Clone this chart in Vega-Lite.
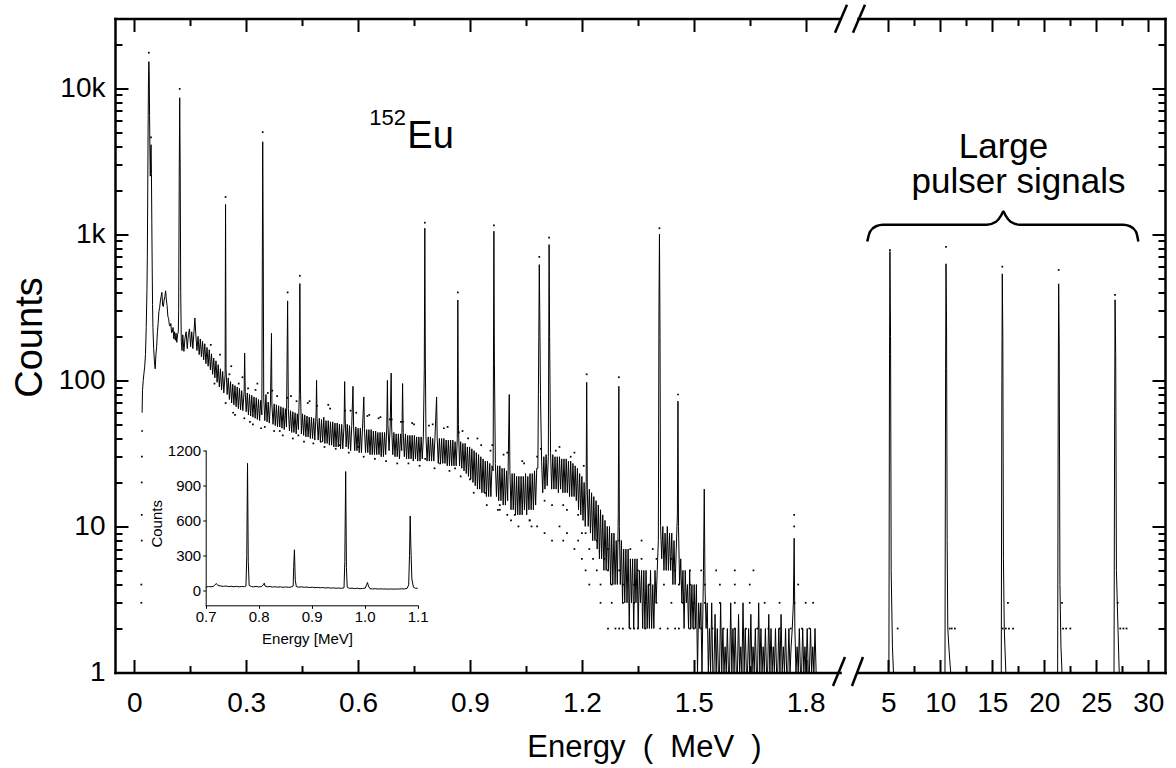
{
"$schema":"https://vega.github.io/schema/vega-lite/v6.json",
"width":1050,"height":654,
"autosize":{"type":"none"},
"padding":{"left":115,"top":18.5,"right":11,"bottom":95.5},
"background":"white",
"config":{"view":{"stroke":null},"axis":{"grid":false,"labelFont":"Liberation Sans","titleFont":"Liberation Sans","labelColor":"#000","titleColor":"#000","domainColor":"#000","tickColor":"#000","labelFontSize":28,"domainWidth":2.5,"tickWidth":2,"titleFontWeight":"normal","domainCap":"square"},"text":{"font":"Liberation Sans","color":"#000"}},
"datasets":{
"spec":[
{"e":0.021,"c":60},{"e":0.022,"c":85},{"e":0.024,"c":100},{"e":0.026,"c":112},{"e":0.028,"c":125},{"e":0.030,"c":150},{"e":0.032,"c":230},{"e":0.034,"c":420},{"e":0.035,"c":700},{"e":0.036,"c":1800},{"e":0.037,"c":5000},{"e":0.038,"c":11000},{"e":0.039,"c":15200},{"e":0.040,"c":13000},{"e":0.041,"c":6500},{"e":0.042,"c":3600},{"e":0.043,"c":2500},{"e":0.044,"c":3600},{"e":0.045,"c":4100},{"e":0.046,"c":2600},{"e":0.047,"c":1200},{"e":0.048,"c":600},{"e":0.049,"c":330},{"e":0.050,"c":230},{"e":0.052,"c":165},{"e":0.054,"c":135},{"e":0.056,"c":120},{"e":0.058,"c":150},{"e":0.060,"c":170},{"e":0.062,"c":215},{"e":0.064,"c":245},{"e":0.066,"c":295},{"e":0.068,"c":315},{"e":0.070,"c":350},{"e":0.072,"c":375},{"e":0.074,"c":400},{"e":0.076,"c":325},{"e":0.078,"c":320},{"e":0.080,"c":355},{"e":0.082,"c":375},{"e":0.084,"c":410},{"e":0.086,"c":355},{"e":0.088,"c":325},{"e":0.090,"c":275},{"e":0.092,"c":265},{"e":0.094,"c":240},{"e":0.096,"c":235},{"e":0.098,"c":245},{"e":0.100,"c":212},{"e":0.102,"c":215},{"e":0.104,"c":230},{"e":0.106,"c":192},{"e":0.108,"c":215},{"e":0.110,"c":188},{"e":0.112,"c":210},{"e":0.114,"c":182},{"e":0.116,"c":205},{"e":0.118,"c":215},{"e":0.119,"c":300},{"e":0.1205,"c":2500},{"e":0.1218,"c":8600},{"e":0.123,"c":3000},{"e":0.1245,"c":400},
{"e":0.126,"c":185},{"e":0.128,"c":160},{"e":0.130,"c":205},{"e":0.133,"c":158},{"e":0.136,"c":195},{"e":0.139,"c":215},{"e":0.142,"c":165},{"e":0.145,"c":205},{"e":0.148,"c":225},{"e":0.151,"c":170},{"e":0.154,"c":215},{"e":0.157,"c":165},{"e":0.160,"c":215},{"e":0.1625,"c":267},{"e":0.165,"c":205},{"e":0.168,"c":160},{"e":0.171,"c":200},{"e":0.174,"c":150},{"e":0.177,"c":192},{"e":0.180,"c":145},{"e":0.183,"c":185},{"e":0.186,"c":138},{"e":0.189,"c":178},{"e":0.192,"c":130},{"e":0.195,"c":168},{"e":0.198,"c":125},{"e":0.201,"c":162},{"e":0.204,"c":118},{"e":0.207,"c":152},{"e":0.210,"c":110},{"e":0.213,"c":142},{"e":0.216,"c":104},{"e":0.219,"c":136},{"e":0.222,"c":97},{"e":0.225,"c":128},{"e":0.228,"c":90},{"e":0.231,"c":120},{"e":0.234,"c":86},{"e":0.237,"c":115},{"e":0.240,"c":82},{"e":0.2435,"c":110},{"e":0.2447,"c":1600},{"e":0.246,"c":120},{"e":0.249,"c":80},{"e":0.252,"c":104},{"e":0.255,"c":74},{"e":0.258,"c":98},{"e":0.261,"c":70},{"e":0.264,"c":94},{"e":0.267,"c":68},{"e":0.270,"c":92},{"e":0.273,"c":66},{"e":0.276,"c":90},{"e":0.279,"c":64},{"e":0.282,"c":88},{"e":0.285,"c":63},{"e":0.288,"c":85},{"e":0.291,"c":62},{"e":0.2945,"c":84},{"e":0.2959,"c":154},{"e":0.2975,"c":82},{"e":0.300,"c":61},{"e":0.303,"c":82},{"e":0.306,"c":58},{"e":0.309,"c":80},{"e":0.312,"c":57},{"e":0.315,"c":79},{"e":0.318,"c":56},{"e":0.321,"c":77},{"e":0.324,"c":55},{"e":0.327,"c":76},{"e":0.330,"c":54},{"e":0.333,"c":74},{"e":0.336,"c":53},{"e":0.339,"c":73},{"e":0.342,"c":58},{"e":0.3443,"c":4300},{"e":0.3458,"c":700},{"e":0.347,"c":76},{"e":0.350,"c":53},{"e":0.353,"c":80},{"e":0.356,"c":52},{"e":0.359,"c":71},{"e":0.362,"c":51},{"e":0.365,"c":70},{"e":0.3678,"c":210},{"e":0.369,"c":68},{"e":0.372,"c":50},{"e":0.375,"c":69},{"e":0.378,"c":49},{"e":0.381,"c":68},{"e":0.384,"c":48},{"e":0.387,"c":67},{"e":0.390,"c":48},{"e":0.393,"c":66},{"e":0.396,"c":47},{"e":0.399,"c":65},{"e":0.402,"c":46},{"e":0.405,"c":64},{"e":0.408,"c":48},{"e":0.4111,"c":350},{"e":0.413,"c":64},{"e":0.416,"c":45},{"e":0.419,"c":62},{"e":0.422,"c":44},{"e":0.425,"c":61},{"e":0.428,"c":44},{"e":0.431,"c":60},{"e":0.434,"c":43},{"e":0.437,"c":59},{"e":0.440,"c":46},{"e":0.4425,"c":80},{"e":0.4439,"c":460},{"e":0.4455,"c":90},{"e":0.448,"c":43},{"e":0.451,"c":59},{"e":0.454,"c":42},{"e":0.457,"c":58},{"e":0.460,"c":41},{"e":0.463,"c":57},{"e":0.466,"c":41},{"e":0.469,"c":56},{"e":0.472,"c":40},{"e":0.475,"c":56},{"e":0.478,"c":40},{"e":0.481,"c":55},{"e":0.484,"c":39},{"e":0.4875,"c":60},{"e":0.4887,"c":100},{"e":0.490,"c":55},{"e":0.493,"c":39},{"e":0.496,"c":55},{"e":0.499,"c":38},{"e":0.502,"c":54},{"e":0.505,"c":38},{"e":0.508,"c":56},{"e":0.511,"c":37},{"e":0.514,"c":53},{"e":0.517,"c":37},{"e":0.520,"c":53},{"e":0.523,"c":36},{"e":0.526,"c":52},{"e":0.529,"c":36},{"e":0.532,"c":52},{"e":0.535,"c":35},{"e":0.538,"c":51},{"e":0.541,"c":35},{"e":0.544,"c":51},{"e":0.547,"c":35},{"e":0.550,"c":50},{"e":0.553,"c":34},{"e":0.556,"c":50},{"e":0.559,"c":34},{"e":0.5625,"c":50},{"e":0.564,"c":98},{"e":0.5655,"c":55},{"e":0.568,"c":35},{"e":0.571,"c":50},{"e":0.574,"c":34},{"e":0.577,"c":49},{"e":0.580,"c":33},{"e":0.583,"c":49},{"e":0.5863,"c":91},{"e":0.588,"c":48},{"e":0.591,"c":33},{"e":0.594,"c":48},{"e":0.597,"c":33},{"e":0.600,"c":47},{"e":0.603,"c":32},{"e":0.606,"c":47},{"e":0.609,"c":32},{"e":0.612,"c":48},{"e":0.6154,"c":77},{"e":0.617,"c":47},{"e":0.620,"c":32},{"e":0.623,"c":46},{"e":0.626,"c":32},{"e":0.629,"c":46},{"e":0.632,"c":31},{"e":0.635,"c":46},{"e":0.638,"c":31},{"e":0.641,"c":45},{"e":0.644,"c":31},{"e":0.647,"c":45},{"e":0.650,"c":31},{"e":0.653,"c":44},{"e":0.656,"c":31},{"e":0.659,"c":44},{"e":0.662,"c":30},{"e":0.665,"c":44},{"e":0.668,"c":30},{"e":0.671,"c":44},{"e":0.674,"c":31},{"e":0.677,"c":48},{"e":0.6786,"c":100},{"e":0.680,"c":50},{"e":0.683,"c":33},{"e":0.686,"c":48},{"e":0.6887,"c":112},{"e":0.690,"c":48},{"e":0.693,"c":31},{"e":0.696,"c":44},{"e":0.699,"c":30},{"e":0.702,"c":43},{"e":0.705,"c":30},{"e":0.708,"c":43},{"e":0.711,"c":29},{"e":0.714,"c":43},{"e":0.717,"c":33},{"e":0.7193,"c":95},{"e":0.721,"c":44},{"e":0.724,"c":30},{"e":0.727,"c":43},{"e":0.730,"c":29},{"e":0.733,"c":42},{"e":0.736,"c":29},{"e":0.739,"c":42},{"e":0.742,"c":29},{"e":0.745,"c":42},{"e":0.748,"c":28},{"e":0.751,"c":42},{"e":0.754,"c":29},{"e":0.757,"c":41},{"e":0.760,"c":28},{"e":0.763,"c":41},{"e":0.766,"c":28},{"e":0.769,"c":41},{"e":0.772,"c":29},{"e":0.775,"c":41},{"e":0.7775,"c":120},{"e":0.7789,"c":1100},{"e":0.7803,"c":140},{"e":0.782,"c":41},{"e":0.785,"c":28},{"e":0.788,"c":41},{"e":0.791,"c":28},{"e":0.794,"c":41},{"e":0.797,"c":28},{"e":0.800,"c":40},{"e":0.803,"c":28},{"e":0.806,"c":40},{"e":0.8105,"c":77},{"e":0.812,"c":41},{"e":0.815,"c":27},{"e":0.818,"c":40},{"e":0.821,"c":27},{"e":0.824,"c":40},{"e":0.827,"c":27},{"e":0.830,"c":40},{"e":0.833,"c":27},{"e":0.836,"c":39},{"e":0.839,"c":26},{"e":0.842,"c":39},{"e":0.845,"c":26},{"e":0.848,"c":39},{"e":0.851,"c":26},{"e":0.854,"c":39},{"e":0.857,"c":26},{"e":0.860,"c":38},{"e":0.863,"c":26},{"e":0.866,"c":40},{"e":0.8674,"c":355},{"e":0.869,"c":50},{"e":0.872,"c":26},{"e":0.875,"c":38},{"e":0.878,"c":25},{"e":0.881,"c":37},{"e":0.884,"c":24},{"e":0.887,"c":37},{"e":0.890,"c":23},{"e":0.893,"c":35},{"e":0.896,"c":22},{"e":0.899,"c":35},{"e":0.902,"c":21},{"e":0.905,"c":34},{"e":0.908,"c":20},{"e":0.911,"c":33},{"e":0.914,"c":19},{"e":0.917,"c":32},{"e":0.920,"c":18},{"e":0.923,"c":31},{"e":0.926,"c":18},{"e":0.929,"c":30},{"e":0.932,"c":17},{"e":0.935,"c":29},{"e":0.938,"c":17},{"e":0.941,"c":28},{"e":0.944,"c":16},{"e":0.947,"c":28},{"e":0.950,"c":16},{"e":0.953,"c":27},{"e":0.956,"c":16},{"e":0.959,"c":26},{"e":0.962,"c":24},{"e":0.9641,"c":1050},{"e":0.9655,"c":130},{"e":0.968,"c":27},{"e":0.971,"c":16},{"e":0.974,"c":26},{"e":0.977,"c":15},{"e":0.980,"c":26},{"e":0.983,"c":15},{"e":0.986,"c":25},{"e":0.989,"c":14},{"e":0.992,"c":25},{"e":0.995,"c":14},{"e":0.998,"c":24},{"e":1.001,"c":15},{"e":1.0053,"c":80},{"e":1.007,"c":24},{"e":1.010,"c":13},{"e":1.013,"c":23},{"e":1.016,"c":13},{"e":1.019,"c":23},{"e":1.022,"c":12},{"e":1.025,"c":22},{"e":1.028,"c":12},{"e":1.031,"c":22},{"e":1.034,"c":12},{"e":1.037,"c":22},{"e":1.040,"c":12},{"e":1.043,"c":22},{"e":1.046,"c":13},{"e":1.049,"c":23},{"e":1.052,"c":12},{"e":1.055,"c":22},{"e":1.058,"c":13},{"e":1.061,"c":23},{"e":1.064,"c":13},{"e":1.067,"c":23},{"e":1.070,"c":13},{"e":1.073,"c":24},{"e":1.076,"c":14},{"e":1.079,"c":25},{"e":1.082,"c":25},{"e":1.0845,"c":200},{"e":1.0858,"c":620},{"e":1.087,"c":300},{"e":1.089,"c":80},{"e":1.092,"c":28},{"e":1.095,"c":17},{"e":1.098,"c":30},{"e":1.101,"c":18},{"e":1.104,"c":31},{"e":1.107,"c":19},{"e":1.110,"c":30},{"e":1.1121,"c":850},{"e":1.1135,"c":200},{"e":1.116,"c":32},{"e":1.119,"c":18},{"e":1.122,"c":31},{"e":1.125,"c":18},{"e":1.128,"c":30},{"e":1.131,"c":18},{"e":1.134,"c":30},{"e":1.137,"c":17},{"e":1.140,"c":30},{"e":1.143,"c":18},{"e":1.146,"c":29},{"e":1.149,"c":17},{"e":1.152,"c":29},{"e":1.155,"c":17},{"e":1.158,"c":29},{"e":1.161,"c":17},{"e":1.164,"c":28},{"e":1.167,"c":16},{"e":1.170,"c":28},{"e":1.173,"c":16},{"e":1.176,"c":27},{"e":1.179,"c":16},{"e":1.182,"c":26},{"e":1.185,"c":15},{"e":1.188,"c":25},{"e":1.191,"c":13},{"e":1.194,"c":23},{"e":1.197,"c":12},{"e":1.200,"c":22},{"e":1.203,"c":11},{"e":1.206,"c":20},{"e":1.209,"c":10},{"e":1.2115,"c":20},{"e":1.2129,"c":97},{"e":1.2145,"c":18},{"e":1.217,"c":10},{"e":1.220,"c":18},{"e":1.223,"c":9},{"e":1.226,"c":17},{"e":1.229,"c":8},{"e":1.232,"c":16},{"e":1.235,"c":8},{"e":1.238,"c":15},{"e":1.241,"c":7},{"e":1.244,"c":14},{"e":1.247,"c":6},{"e":1.250,"c":13},{"e":1.253,"c":6},{"e":1.256,"c":12},{"e":1.259,"c":5},{"e":1.262,"c":11},{"e":1.265,"c":5},{"e":1.268,"c":10},{"e":1.271,"c":5},{"e":1.274,"c":10},{"e":1.277,"c":4},{"e":1.280,"c":9},{"e":1.283,"c":4},{"e":1.286,"c":9},{"e":1.289,"c":4},{"e":1.292,"c":8},{"e":1.295,"c":4},{"e":1.2975,"c":12},{"e":1.2991,"c":91},{"e":1.3005,"c":10},{"e":1.303,"c":4},{"e":1.306,"c":8},{"e":1.309,"c":3},{"e":1.312,"c":7},{"e":1.315,"c":3},{"e":1.318,"c":7},{"e":1.321,"c":3},{"e":1.324,"c":7},{"e":1.327,"c":2},{"e":1.330,"c":6},{"e":1.333,"c":3},{"e":1.336,"c":6},{"e":1.339,"c":2},{"e":1.342,"c":6},{"e":1.345,"c":3},{"e":1.348,"c":6},{"e":1.351,"c":2},{"e":1.354,"c":5},{"e":1.357,"c":3},{"e":1.360,"c":5},{"e":1.363,"c":2},{"e":1.366,"c":5},{"e":1.369,"c":2},{"e":1.372,"c":5},{"e":1.375,"c":2},{"e":1.378,"c":4},{"e":1.381,"c":2},{"e":1.384,"c":5},{"e":1.387,"c":2},{"e":1.390,"c":4},{"e":1.393,"c":2},{"e":1.396,"c":5},{"e":1.399,"c":3},{"e":1.402,"c":5},{"e":1.405,"c":8},{"e":1.4066,"c":300},{"e":1.408,"c":1000},{"e":1.4095,"c":200},{"e":1.411,"c":10},{"e":1.414,"c":6},{"e":1.417,"c":10},{"e":1.420,"c":5},{"e":1.423,"c":9},{"e":1.426,"c":5},{"e":1.429,"c":10},{"e":1.432,"c":5},{"e":1.435,"c":9},{"e":1.438,"c":5},{"e":1.441,"c":9},{"e":1.444,"c":4},{"e":1.447,"c":8},{"e":1.450,"c":4},{"e":1.453,"c":7},{"e":1.456,"c":12},{"e":1.4576,"c":72},{"e":1.459,"c":10},{"e":1.462,"c":4},{"e":1.465,"c":6},{"e":1.468,"c":3},{"e":1.471,"c":5},{"e":1.474,"c":2},{"e":1.477,"c":5},{"e":1.480,"c":3},{"e":1.483,"c":4},{"e":1.486,"c":2},{"e":1.489,"c":5},{"e":1.492,"c":2},{"e":1.495,"c":4},{"e":1.498,"c":2},{"e":1.501,"c":4},{"e":1.504,"c":2},{"e":1.507,"c":4},{"e":1.510,"c":1},{"e":1.513,"c":3},{"e":1.516,"c":2},{"e":1.519,"c":3},{"e":1.522,"c":1},{"e":1.526,"c":5},{"e":1.5281,"c":18},{"e":1.530,"c":4},{"e":1.533,"c":2},{"e":1.536,"c":3},
{"e":1.539,"c":1},{"e":1.542,"c":2},{"e":1.545,"c":1},{"e":1.548,"c":3},{"e":1.551,"c":1},{"e":1.554,"c":1},{"e":1.557,"c":2.5},{"e":1.560,"c":1},{"e":1.563,"c":2},{"e":1.566,"c":1},{"e":1.569,"c":1},{"e":1.572,"c":3},{"e":1.575,"c":1},{"e":1.578,"c":2},{"e":1.581,"c":1},{"e":1.584,"c":1.5},{"e":1.587,"c":1},{"e":1.590,"c":2},{"e":1.593,"c":1},{"e":1.596,"c":1},{"e":1.599,"c":3},{"e":1.602,"c":1},{"e":1.605,"c":2},{"e":1.608,"c":1},{"e":1.611,"c":2},{"e":1.614,"c":1},{"e":1.617,"c":1},{"e":1.620,"c":2.5},{"e":1.623,"c":1},{"e":1.626,"c":1.5},{"e":1.629,"c":1},{"e":1.632,"c":3},{"e":1.635,"c":1},{"e":1.638,"c":2},{"e":1.641,"c":1},{"e":1.644,"c":1},{"e":1.647,"c":2},{"e":1.650,"c":1},{"e":1.653,"c":2.5},{"e":1.656,"c":1},{"e":1.659,"c":1.5},{"e":1.662,"c":1},{"e":1.665,"c":2},{"e":1.668,"c":1},{"e":1.671,"c":1},{"e":1.674,"c":3},{"e":1.677,"c":1},{"e":1.680,"c":2},{"e":1.683,"c":1},{"e":1.686,"c":1.5},{"e":1.689,"c":1},{"e":1.692,"c":2},{"e":1.695,"c":1},{"e":1.698,"c":1},{"e":1.701,"c":2.5},{"e":1.704,"c":1},{"e":1.707,"c":2},{"e":1.710,"c":1},{"e":1.713,"c":1.5},{"e":1.716,"c":1},{"e":1.719,"c":2},{"e":1.722,"c":1},{"e":1.725,"c":1},{"e":1.728,"c":2},{"e":1.731,"c":1},{"e":1.734,"c":2.5},{"e":1.737,"c":1},{"e":1.740,"c":1.5},{"e":1.743,"c":1},{"e":1.746,"c":2},{"e":1.749,"c":1},{"e":1.752,"c":1},{"e":1.755,"c":2},{"e":1.758,"c":1},{"e":1.761,"c":1.5},{"e":1.764,"c":2},{"e":1.767,"c":3},{"e":1.7691,"c":8.3},{"e":1.771,"c":2},{"e":1.774,"c":1},{"e":1.777,"c":1.5},{"e":1.780,"c":1},{"e":1.783,"c":2},{"e":1.786,"c":1},{"e":1.789,"c":1},{"e":1.792,"c":2},{"e":1.795,"c":1},{"e":1.798,"c":1.5},{"e":1.801,"c":1},{"e":1.804,"c":2},{"e":1.807,"c":1},{"e":1.810,"c":1},{"e":1.813,"c":2},{"e":1.816,"c":1},{"e":1.819,"c":1.5},{"e":1.822,"c":1},{"e":1.825,"c":2},{"e":1.828,"c":1}
],
"dots":[
{"e":0.019,"c":3},{"e":0.02,"c":8},{"e":0.02,"c":20},{"e":0.021,"c":45},{"e":0.019,"c":4},{"e":0.02,"c":12},{"e":0.0205,"c":30},
{"e":0.039,"c":17500},{"e":0.0448,"c":4600},{"e":0.1218,"c":9900},{"e":0.2447,"c":1800},{"e":0.3443,"c":5000},{"e":0.4111,"c":400},{"e":0.4439,"c":520},{"e":0.7789,"c":1200},{"e":0.8674,"c":400},{"e":0.9641,"c":1150},{"e":1.0858,"c":700},{"e":1.1121,"c":950},{"e":1.408,"c":1100},{"e":1.4576,"c":80},{"e":1.2129,"c":110},{"e":1.2991,"c":105},{"e":1.7691,"c":12},{"e":1.7691,"c":10},
{"e":0.23,"c":150},{"e":0.26,"c":125},{"e":0.27,"c":58},{"e":0.29,"c":105},{"e":0.31,"c":52},{"e":0.33,"c":95},{"e":0.35,"c":48},{"e":0.37,"c":85},{"e":0.39,"c":45},{"e":0.42,"c":78},{"e":0.44,"c":42},{"e":0.47,"c":72},{"e":0.5,"c":38},{"e":0.52,"c":68},{"e":0.55,"c":36},{"e":0.58,"c":62},{"e":0.6,"c":35},{"e":0.63,"c":58},{"e":0.66,"c":56},{"e":0.69,"c":54},{"e":0.72,"c":52},{"e":0.75,"c":50},{"e":0.78,"c":29},{"e":0.8,"c":50},{"e":0.82,"c":27},{"e":0.84,"c":48},{"e":0.86,"c":25},{"e":0.88,"c":45},{"e":0.9,"c":21},{"e":0.92,"c":40},{"e":0.94,"c":17},{"e":0.96,"c":36},{"e":0.98,"c":14},{"e":1.0,"c":32},{"e":1.02,"c":12},{"e":1.04,"c":28},{"e":1.06,"c":11},{"e":1.08,"c":30},{"e":1.1,"c":15},{"e":1.13,"c":33},{"e":1.15,"c":14},{"e":1.17,"c":30},{"e":1.19,"c":12},
{"e":0.205,"c":175},{"e":0.215,"c":95},{"e":0.245,"c":70},{"e":0.255,"c":110},{"e":0.265,"c":60},{"e":0.28,"c":95},{"e":0.295,"c":55},{"e":0.305,"c":88},{"e":0.318,"c":50},{"e":0.325,"c":86},{"e":0.34,"c":47},{"e":0.358,"c":82},{"e":0.375,"c":45},{"e":0.383,"c":78},{"e":0.398,"c":42},{"e":0.41,"c":76},{"e":0.425,"c":40},{"e":0.435,"c":72},{"e":0.455,"c":38},{"e":0.465,"c":70},{"e":0.48,"c":37},{"e":0.49,"c":67},{"e":0.51,"c":35},{"e":0.525,"c":64},{"e":0.54,"c":34},{"e":0.565,"c":62},{"e":0.575,"c":32},{"e":0.595,"c":60},{"e":0.615,"c":30},{"e":0.625,"c":57},{"e":0.645,"c":29},{"e":0.655,"c":55},{"e":0.675,"c":28},{"e":0.685,"c":54},{"e":0.705,"c":27},{"e":0.715,"c":52},{"e":0.735,"c":27},{"e":0.745,"c":51},{"e":0.765,"c":26},{"e":0.79,"c":49},{"e":0.805,"c":25},{"e":0.83,"c":47},{"e":0.845,"c":24},{"e":0.87,"c":44},{"e":0.875,"c":22},{"e":0.895,"c":40},{"e":0.91,"c":17},{"e":0.93,"c":36},{"e":0.945,"c":14},{"e":0.955,"c":33},{"e":0.975,"c":13},{"e":0.99,"c":31},{"e":1.01,"c":11},{"e":1.045,"c":27},{"e":1.065,"c":10},{"e":1.09,"c":34},{"e":1.12,"c":14},{"e":1.14,"c":35},{"e":1.16,"c":13},{"e":1.18,"c":32},{"e":1.2,"c":9},{"e":1.205,"c":26},
{"e":1.27,"c":2},{"e":1.29,"c":2},{"e":1.31,"c":2},{"e":1.33,"c":2},{"e":1.35,"c":2},{"e":1.37,"c":2},{"e":1.41,"c":2},{"e":1.43,"c":2},{"e":1.46,"c":2},{"e":1.49,"c":2},{"e":1.52,"c":2},{"e":1.55,"c":2},{"e":1.58,"c":2},{"e":1.61,"c":2},{"e":1.64,"c":2},{"e":1.67,"c":2},{"e":1.70,"c":2},{"e":1.73,"c":2},{"e":1.76,"c":2},{"e":1.79,"c":2},{"e":1.81,"c":2},{"e":1.30,"c":2},{"e":1.34,"c":2},{"e":1.45,"c":2},{"e":1.50,"c":2},
{"e":1.25,"c":3},{"e":1.28,"c":3},{"e":1.31,"c":3},{"e":1.34,"c":3},{"e":1.37,"c":3},{"e":1.40,"c":3},{"e":1.44,"c":3},{"e":1.47,"c":3},{"e":1.50,"c":3},{"e":1.53,"c":3},{"e":1.57,"c":3},{"e":1.61,"c":3},{"e":1.65,"c":3},{"e":1.69,"c":3},{"e":1.73,"c":3},{"e":1.77,"c":3},{"e":1.80,"c":3},{"e":1.82,"c":3},
{"e":1.22,"c":4},{"e":1.25,"c":4},{"e":1.28,"c":4},{"e":1.31,"c":4},{"e":1.34,"c":4},{"e":1.38,"c":4},{"e":1.42,"c":4},{"e":1.46,"c":4},{"e":1.49,"c":4},{"e":1.53,"c":4},{"e":1.57,"c":4},{"e":1.61,"c":4},{"e":1.65,"c":4},{"e":1.78,"c":4},
{"e":1.21,"c":5},{"e":1.24,"c":5},{"e":1.27,"c":5},{"e":1.30,"c":5},{"e":1.35,"c":5},{"e":1.45,"c":5},{"e":1.49,"c":5},{"e":1.52,"c":5},{"e":1.56,"c":5},{"e":1.61,"c":5},{"e":1.66,"c":5},
{"e":1.20,"c":6},{"e":1.23,"c":6},{"e":1.26,"c":6},{"e":1.36,"c":6},{"e":1.40,"c":6},{"e":1.44,"c":6},
{"e":1.18,"c":7},{"e":1.22,"c":7},{"e":1.27,"c":7},{"e":1.33,"c":7},{"e":1.39,"c":7},
{"e":1.12,"c":8},{"e":1.15,"c":8},{"e":1.19,"c":8},{"e":1.24,"c":8},{"e":1.30,"c":8},{"e":1.36,"c":8},
{"e":1.10,"c":9},{"e":1.16,"c":9},{"e":1.21,"c":9},{"e":1.03,"c":10},{"e":1.08,"c":10},{"e":1.14,"c":10},{"e":1.00,"c":12},{"e":1.06,"c":11},{"e":0.98,"c":13}
],
"pulser":[
{"e":2.2,"c":1},{"e":5.06,"c":1},{"e":5.12,"c":150},{"e":5.16,"c":762},{"e":5.22,"c":200},{"e":5.28,"c":5},{"e":5.4,"c":1.5},{"e":5.5,"c":1},
{"e":10.45,"c":1},{"e":10.51,"c":120},{"e":10.55,"c":628},{"e":10.6,"c":250},{"e":10.66,"c":8},{"e":10.72,"c":2},{"e":10.85,"c":1.4},{"e":11.0,"c":1},
{"e":15.86,"c":1},{"e":15.92,"c":100},{"e":15.96,"c":536},{"e":16.01,"c":200},{"e":16.07,"c":6},{"e":16.15,"c":2},{"e":16.3,"c":1},
{"e":21.28,"c":1},{"e":21.34,"c":90},{"e":21.38,"c":458},{"e":21.43,"c":180},{"e":21.5,"c":4},{"e":21.6,"c":1.5},{"e":21.7,"c":1},
{"e":26.7,"c":1},{"e":26.76,"c":60},{"e":26.8,"c":356},{"e":26.86,"c":150},{"e":26.93,"c":5},{"e":27.05,"c":2.4},{"e":27.2,"c":1},{"e":31.5,"c":1}
],
"pdots":[
{"e":5.16,"c":780},{"e":10.55,"c":820},{"e":15.96,"c":600},{"e":21.38,"c":570},{"e":26.8,"c":385},
{"e":5.9,"c":2},{"e":10.9,"c":2},{"e":11.1,"c":2},{"e":11.4,"c":2},{"e":16.0,"c":2},{"e":16.3,"c":2},{"e":16.6,"c":2},{"e":17.0,"c":2},{"e":16.5,"c":3},{"e":21.8,"c":2},{"e":22.1,"c":2},{"e":22.5,"c":2},{"e":21.7,"c":3},{"e":27.3,"c":2},{"e":27.6,"c":2},{"e":27.9,"c":2},{"e":27.05,"c":3}
],
"brace":[
{"e":2.98,"c":893},{"e":3.24,"c":1040},{"e":3.82,"c":1135},{"e":4.49,"c":1162},{"e":14.46,"c":1162},{"e":15.36,"c":1218},{"e":15.84,"c":1340},{"e":16.06,"c":1432},{"e":16.28,"c":1340},{"e":16.76,"c":1218},{"e":17.66,"c":1162},{"e":27.57,"c":1162},{"e":28.24,"c":1135},{"e":28.82,"c":1040},{"e":29.04,"c":893}
],
"breakB":[{"e":1.8732,"e2":1.9054,"c":0.808,"c2":1.277},{"e":1.9241,"e2":1.9536,"c":0.808,"c2":1.277}],
"breakT":[{"e":1.8786,"e2":1.9107,"c":23990,"c2":37320},{"e":1.9268,"e2":1.959,"c":23990,"c2":37320}],
"labels":[{"t":"Large","e":16.08,"c":3342},{"t":"pulser signals","e":17.52,"c":1923}],
"inset":[
{"e":0.700,"c":30},{"e":0.705,"c":36},{"e":0.710,"c":33},{"e":0.715,"c":38},{"e":0.720,"c":62},{"e":0.723,"c":45},{"e":0.728,"c":40},{"e":0.733,"c":37},{"e":0.738,"c":40},{"e":0.743,"c":35},{"e":0.748,"c":38},{"e":0.753,"c":34},{"e":0.758,"c":37},{"e":0.763,"c":33},{"e":0.768,"c":36},{"e":0.773,"c":34},{"e":0.776,"c":40},{"e":0.7775,"c":300},{"e":0.7789,"c":1090},{"e":0.7803,"c":250},{"e":0.782,"c":45},{"e":0.786,"c":36},{"e":0.790,"c":33},{"e":0.795,"c":37},{"e":0.800,"c":32},{"e":0.805,"c":35},{"e":0.809,"c":50},{"e":0.8105,"c":65},{"e":0.812,"c":40},{"e":0.816,"c":33},{"e":0.821,"c":36},{"e":0.826,"c":31},{"e":0.831,"c":34},{"e":0.836,"c":30},{"e":0.841,"c":33},{"e":0.846,"c":29},{"e":0.851,"c":32},{"e":0.856,"c":29},{"e":0.861,"c":31},{"e":0.865,"c":40},{"e":0.866,"c":200},{"e":0.8674,"c":350},{"e":0.869,"c":90},{"e":0.871,"c":35},{"e":0.876,"c":30},{"e":0.881,"c":33},{"e":0.886,"c":29},{"e":0.891,"c":31},{"e":0.896,"c":27},{"e":0.901,"c":30},{"e":0.906,"c":26},{"e":0.911,"c":28},{"e":0.916,"c":25},{"e":0.921,"c":27},{"e":0.926,"c":23},{"e":0.931,"c":26},{"e":0.936,"c":22},{"e":0.941,"c":24},{"e":0.946,"c":21},{"e":0.951,"c":23},{"e":0.956,"c":20},{"e":0.961,"c":25},{"e":0.9625,"c":250},{"e":0.9641,"c":1020},{"e":0.9655,"c":200},{"e":0.967,"c":30},{"e":0.971,"c":20},{"e":0.976,"c":22},{"e":0.981,"c":18},{"e":0.986,"c":21},{"e":0.991,"c":17},{"e":0.996,"c":19},{"e":1.001,"c":22},{"e":1.0035,"c":50},{"e":1.0053,"c":70},{"e":1.007,"c":40},{"e":1.010,"c":17},{"e":1.015,"c":15},{"e":1.020,"c":17},{"e":1.025,"c":14},{"e":1.030,"c":16},{"e":1.035,"c":14},{"e":1.040,"c":15},{"e":1.045,"c":13},{"e":1.050,"c":15},{"e":1.055,"c":13},{"e":1.060,"c":15},{"e":1.065,"c":14},{"e":1.070,"c":16},{"e":1.075,"c":15},{"e":1.080,"c":20},{"e":1.083,"c":50},{"e":1.0845,"c":300},{"e":1.0858,"c":640},{"e":1.087,"c":400},{"e":1.089,"c":100},{"e":1.092,"c":30},{"e":1.096,"c":20},{"e":1.100,"c":22}
]
},
"resolve":{"scale":{"x":"independent","y":"independent"},"axis":{"x":"independent","y":"independent"}},
"layer":[
{"data":{"name":"spec"},"mark":{"type":"line","color":"#000","strokeWidth":1},
 "encoding":{
  "x":{"field":"e","type":"quantitative","scale":{"domain":[-0.0517,1.892],"range":[0,725],"nice":false,"zero":false},
   "axis":{"orient":"bottom","values":[0,0.3,0.6,0.9,1.2,1.5,1.8],"tickSize":-13,"labelPadding":30,"labelExpr":"toString(datum.value)","labelFlush":false,"labelOverlap":false,
    "title":"Energy\u00a0 (\u00a0 MeV\u00a0 )","titleFontSize":31,"titleX":529,"titleY":83.5,"titleBaseline":"alphabetic","titleAlign":"center","titleAnchor":null}},
  "y":{"field":"c","type":"quantitative","scale":{"type":"log","domain":[1,30000],"nice":false},
   "axis":{"orient":"left","values":[1,10,100,1000,10000],"tickSize":-13,"labelPadding":23,"labelFlush":false,"labelOverlap":false,
    "labelExpr":"datum.value >= 1000 ? format(datum.value/1000,'d') + 'k' : format(datum.value,'d')",
    "title":"Counts","titleFontSize":38,"titleX":-73.3,"titleY":318.5,"titleAngle":270,"titleBaseline":"alphabetic","titleAlign":"center"}}}},
{"data":{"name":"dots"},"mark":{"type":"point","filled":true,"color":"#000","size":3,"opacity":1,"shape":"square"},
 "encoding":{
  "x":{"field":"e","type":"quantitative","scale":{"domain":[-0.0517,1.892],"range":[0,725],"nice":false,"zero":false},
   "axis":{"orient":"top","values":[0,0.3,0.6,0.9,1.2,1.5,1.8],"tickSize":-13,"labels":false,"title":null}},
  "y":{"field":"c","type":"quantitative","scale":{"type":"log","domain":[1,30000],"nice":false},
   "axis":{"orient":"right","values":[1,10,100,1000,10000],"tickSize":-13,"labels":false,"title":null}}}},
{"data":{"name":"breakB"},"mark":{"type":"rule","color":"#000","strokeWidth":2.5},
 "encoding":{
  "x":{"field":"e","type":"quantitative","scale":{"domain":[-0.0517,1.892],"range":[0,725],"nice":false,"zero":false},
   "axis":{"orient":"bottom","values":[0.15,0.45,0.75,1.05,1.35,1.65],"tickSize":-7,"labels":false,"domain":false,"title":null}},
  "x2":{"field":"e2"},
  "y":{"field":"c","type":"quantitative","scale":{"type":"log","domain":[1,30000],"nice":false},
   "axis":{"orient":"left","values":[2,3,4,5,6,7,8,9,20,30,40,50,60,70,80,90,200,300,400,500,600,700,800,900,2000,3000,4000,5000,6000,7000,8000,9000,20000],"tickSize":-7,"labels":false,"domain":false,"title":null}},
  "y2":{"field":"c2"}}},
{"data":{"name":"breakT"},"mark":{"type":"rule","color":"#000","strokeWidth":2.5},
 "encoding":{
  "x":{"field":"e","type":"quantitative","scale":{"domain":[-0.0517,1.892],"range":[0,725],"nice":false,"zero":false},
   "axis":{"orient":"top","values":[0.15,0.45,0.75,1.05,1.35,1.65],"tickSize":-7,"labels":false,"domain":false,"title":null}},
  "x2":{"field":"e2"},
  "y":{"field":"c","type":"quantitative","scale":{"type":"log","domain":[1,30000],"nice":false},
   "axis":{"orient":"right","values":[2,3,4,5,6,7,8,9,20,30,40,50,60,70,80,90,200,300,400,500,600,700,800,900,2000,3000,4000,5000,6000,7000,8000,9000,20000],"tickSize":-7,"labels":false,"domain":false,"title":null}},
  "y2":{"field":"c2"}}},
{"data":{"name":"pulser"},"mark":{"type":"line","color":"#000","strokeWidth":1},
 "encoding":{
  "x":{"field":"e","type":"quantitative","scale":{"domain":[2.09,31.6],"range":[743,1050],"nice":false,"zero":false},
   "axis":{"orient":"bottom","values":[5,10,15,20,25,30],"tickSize":-13,"labelPadding":30,"labelExpr":"toString(datum.value)","labelFlush":false,"labelOverlap":false,"title":null}},
  "y":{"field":"c","type":"quantitative","scale":{"type":"log","domain":[1,30000],"nice":false},"axis":null}}},
{"data":{"name":"pdots"},"mark":{"type":"point","filled":true,"color":"#000","size":3,"opacity":1,"shape":"square"},
 "encoding":{
  "x":{"field":"e","type":"quantitative","scale":{"domain":[2.09,31.6],"range":[743,1050],"nice":false,"zero":false},
   "axis":{"orient":"top","values":[5,10,15,20,25,30],"tickSize":-13,"labels":false,"title":null}},
  "y":{"field":"c","type":"quantitative","scale":{"type":"log","domain":[1,30000],"nice":false},"axis":null}}},
{"data":{"name":"brace"},"mark":{"type":"line","color":"#000","strokeWidth":2.5,"interpolate":"monotone"},
 "encoding":{
  "x":{"field":"e","type":"quantitative","scale":{"domain":[2.09,31.6],"range":[743,1050],"nice":false,"zero":false},
   "axis":{"orient":"bottom","values":[7.5,12.5,17.5,22.5,27.5],"tickSize":-7,"labels":false,"domain":false,"title":null}},
  "y":{"field":"c","type":"quantitative","scale":{"type":"log","domain":[1,30000],"nice":false},"axis":null}}},
{"data":{"name":"labels"},"mark":{"type":"text","fontSize":35,"align":"center","baseline":"alphabetic"},
 "encoding":{
  "x":{"field":"e","type":"quantitative","scale":{"domain":[2.09,31.6],"range":[743,1050],"nice":false,"zero":false},
   "axis":{"orient":"top","values":[7.5,12.5,17.5,22.5,27.5],"tickSize":-7,"labels":false,"domain":false,"title":null}},
  "y":{"field":"c","type":"quantitative","scale":{"type":"log","domain":[1,30000],"nice":false},"axis":null},
  "text":{"field":"t"}}},
{"data":{"values":[{"t":"152"}]},"mark":{"type":"text","fontSize":22,"align":"left","baseline":"alphabetic"},
 "encoding":{
  "x":{"datum":0.63,"type":"quantitative","scale":{"domain":[-0.0517,1.892],"range":[0,725],"nice":false,"zero":false},"axis":null},
  "y":{"datum":5623,"type":"quantitative","scale":{"type":"log","domain":[1,30000],"nice":false},"axis":null},
  "text":{"field":"t"}}},
{"data":{"values":[{"t":"Eu"}]},"mark":{"type":"text","fontSize":38,"align":"left","baseline":"alphabetic"},
 "encoding":{
  "x":{"datum":0.732,"type":"quantitative","scale":{"domain":[-0.0517,1.892],"range":[0,725],"nice":false,"zero":false},"axis":null},
  "y":{"datum":3894,"type":"quantitative","scale":{"type":"log","domain":[1,30000],"nice":false},"axis":null},
  "text":{"field":"t"}}},
{"data":{"name":"inset"},"mark":{"type":"line","color":"#000","strokeWidth":1},
 "encoding":{
  "x":{"field":"e","type":"quantitative","scale":{"domain":[0.7,1.1],"range":[90.7,302.7],"nice":false,"zero":false},
   "axis":{"orient":"bottom","offset":-67.2,"values":[0.7,0.8,0.9,1.0,1.1],"labelExpr":"format(datum.value,'.1f')","labelFontSize":15,"tickSize":3,"tickWidth":1,"domainWidth":1,"labelPadding":1,"labelFlush":false,"labelOverlap":false,
    "title":"Energy [MeV]","titleFontSize":15,"titleX":192,"titleY":37.7,"titleBaseline":"alphabetic","titleAlign":"center"}},
  "y":{"field":"c","type":"quantitative","scale":{"domain":[-125,1200],"range":[586.8,432],"nice":false,"zero":false},
   "axis":{"orient":"left","offset":-90.7,"values":[0,300,600,900,1200],"labelExpr":"format(datum.value,'d')","labelFontSize":15,"tickSize":3,"tickWidth":1,"domainWidth":1,"labelPadding":2,"labelFlush":false,"labelOverlap":false,
    "title":"Counts","titleFontSize":15,"titleX":-44,"titleY":504.8,"titleAngle":270,"titleBaseline":"alphabetic","titleAlign":"center"}}}}
]
}
